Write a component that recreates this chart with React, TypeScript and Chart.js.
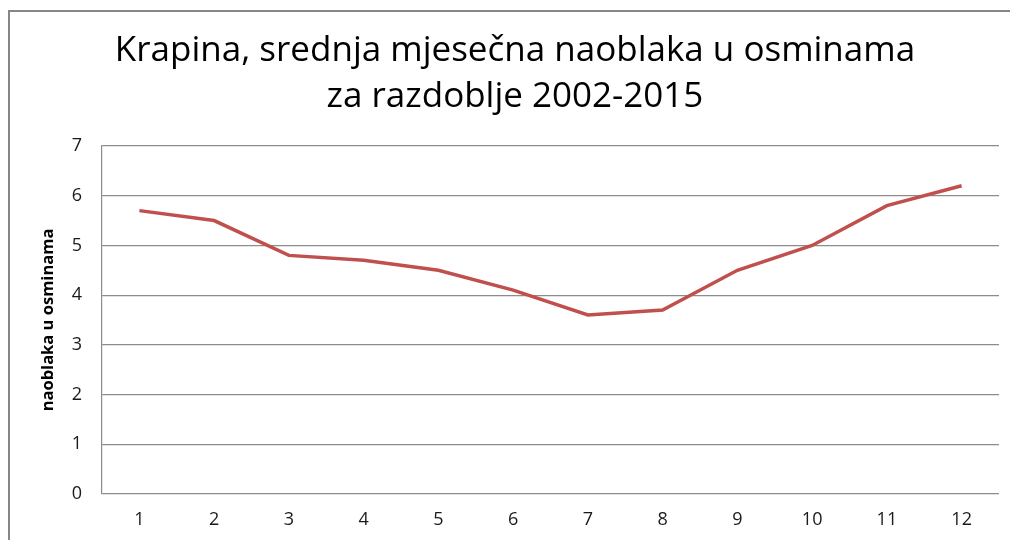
import React, { useEffect, useRef } from "react";
import { Chart, registerables } from "chart.js";

Chart.register(...registerables);

const months: string[] = ["1", "2", "3", "4", "5", "6", "7", "8", "9", "10", "11", "12"];
const cloudiness: number[] = [5.7, 5.5, 4.8, 4.7, 4.5, 4.1, 3.6, 3.7, 4.5, 5.0, 5.8, 6.2];
const titleLines: string[] = ["Krapina, srednja mjesečna naoblaka u osminama", "za razdoblje 2002-2015"];
const yAxisTitle = "naoblaka u osminama";
const FONT = "'Open Sans', 'DejaVu Sans', sans-serif";

const framePlugin = {
  id: "frameAndTitle",
  beforeDraw(chart: any) {
    const ctx = chart.ctx;
    ctx.save();
    ctx.fillStyle = "#ffffff";
    ctx.fillRect(0, 0, chart.width, chart.height);
    ctx.strokeStyle = "#868686";
    ctx.lineWidth = 2;
    ctx.beginPath();
    ctx.moveTo(9, chart.height + 2);
    ctx.lineTo(9, 11);
    ctx.lineTo(chart.width + 2, 11);
    ctx.stroke();
    ctx.restore();
  },
  afterDraw(chart: any) {
    const ctx = chart.ctx;
    ctx.save();
    ctx.fillStyle = "#000000";
    ctx.font = `35px ${FONT}`;
    ctx.textAlign = "center";
    ctx.textBaseline = "middle";
    ctx.fillText(titleLines[0], 515, 51);
    ctx.fillText(titleLines[1], 515, 97);
    ctx.restore();
  },
};

export default function App() {
  const ref = useRef<HTMLCanvasElement>(null);
  useEffect(() => {
    if (!ref.current) return;
    const chart = new Chart(ref.current, {
      type: "line",
      data: {
        labels: months,
        datasets: [
          {
            data: cloudiness,
            borderColor: "#C0504D",
            backgroundColor: "#C0504D",
            borderWidth: 3.5,
            pointRadius: 0,
            tension: 0,
          },
        ],
      },
      options: {
        animation: false,
        responsive: false,
        layout: { padding: { top: 146, left: 10, right: 11, bottom: 6 } },
        plugins: { legend: { display: false }, tooltip: { enabled: false }, title: { display: false } },
        scales: {
          x: {
            offset: true,
            grid: { display: false, drawTicks: false },
            border: { display: false },
            ticks: { color: "#1a1a1a", font: { family: FONT, size: 18 }, padding: 15 },
            afterFit: (s: any) => {
              s.height = 540 - 494 - 6;
            },
          },
          y: {
            min: 0,
            max: 7,
            ticks: { stepSize: 1, color: "#1a1a1a", font: { family: FONT, size: 18 }, padding: 20 },
            grid: { color: "#8c8c8c", lineWidth: 1.2, drawTicks: false },
            border: { display: true, color: "#8c8c8c", width: 1.2 },
            title: {
              display: true,
              text: yAxisTitle,
              color: "#000000",
              font: { family: FONT, size: 16.5, weight: "bold" },
              padding: { top: 28, bottom: 0 },
            },
            afterFit: (s: any) => {
              s.width = 92;
            },
          },
        },
      },
      plugins: [framePlugin],
    });
    return () => chart.destroy();
  }, []);
  return (
    <div style={{ position: "fixed", left: 0, top: 0, width: 1010, height: 540, background: "#fff" }}>
      <canvas ref={ref} width={1010} height={540} style={{ display: "block" }} />
    </div>
  );
}
